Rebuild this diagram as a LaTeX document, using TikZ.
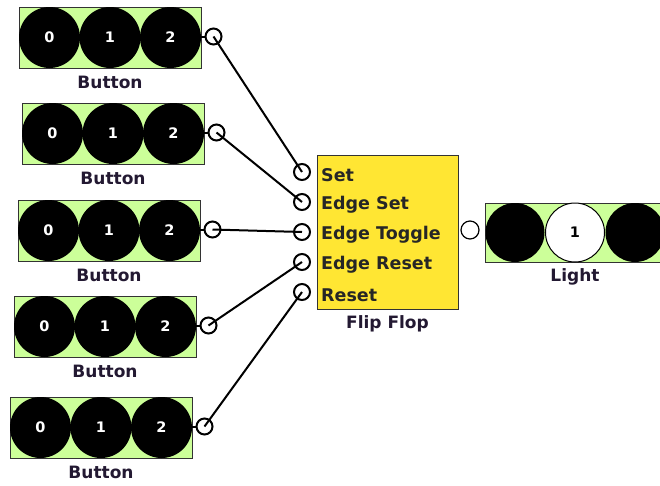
\documentclass[tikz,border=0pt]{standalone}
\usepackage{fontspec}
\setmainfont{DejaVu Sans}
\definecolor{pgreen}{RGB}{204,255,153}
\definecolor{fyellow}{RGB}{255,230,51}
\definecolor{lbltext}{RGB}{35,25,50}
\tikzset{
  btnrect/.style={draw=black!80, line width=1pt, fill=pgreen, minimum width=182pt, minimum height=61pt, inner sep=0pt},
  blk/.style={circle, fill=black, minimum size=61pt, inner sep=0pt, text=white, font=\bfseries\fontsize{14.5}{14.5}\selectfont},
  wht/.style={circle, draw=black, line width=1pt, fill=white, minimum size=59pt, inner sep=0pt, text=black, font=\bfseries\fontsize{14.5}{14.5}\selectfont},
  lbl/.style={text=lbltext, inner sep=0pt, font=\bfseries\fontsize{17}{17}\selectfont},
  ffl/.style={text=black!85, inner sep=0pt, anchor=west, font=\bfseries\fontsize{17.5}{17.5}\selectfont},
  port/.style={circle, draw=black, line width=2pt, fill=white, minimum size=16pt, inner sep=0pt},
  oport/.style={circle, draw=black, line width=1.2pt, fill=white, minimum size=18pt, inner sep=0pt},
  wire/.style={line width=2pt, draw=black},
  ffbox/.style={draw=black!80, line width=1pt, fill=fyellow, minimum width=141pt, minimum height=154pt, inner sep=0pt}
}
\newcommand\btnblock[3]{%
  \node[btnrect] (#1) at (#2+91,#3+30.5) {};
  \node[blk] (#1a) at (#2+30.5,#3+30.5) {0};
  \node[blk] (#1b) at (#2+91,#3+30.5) {1};
  \node[blk] (#1c) at (#2+151.5,#3+30.5) {2};
  \node[lbl] (#1l) at (#2+91,#3+75) {Button};
  \draw[wire] (#2+182,#3+29.5) -- (#2+188,#3+29.5);
  \node[port] (#1p) at (#2+194.5,#3+29.5) {};
}
\begin{document}
\begin{tikzpicture}[x=1pt,y=-1pt]
\clip (0,0) rectangle (660,485);
\fill[white] (0,0) rectangle (660,485);
\btnblock{ba}{19}{7}
\btnblock{bb}{22}{103}
\btnblock{bc}{18}{200}
\btnblock{bd}{14}{296}
\btnblock{be}{10}{397}
% flip flop
\node[ffbox] (ff) at (387.5,232) {};
\node[lbl] (ffl) at (387.5,324) {Flip Flop};
\node[port] (p1) at (302,172) {};
\node[port] (p2) at (302,202) {};
\node[port] (p3) at (302,232) {};
\node[port] (p4) at (302,262) {};
\node[port] (p5) at (302,292) {};
\node[ffl] (t1) at (321,175) {Set};
\node[ffl] (t2) at (321,205) {Edge Set};
\node[ffl] (t3) at (321,235) {Edge Toggle};
\node[ffl] (t4) at (321,265) {Edge Reset};
\node[ffl] (t5) at (321,295) {Reset};
\node[oport] (fo) at (470,230) {};
% light
\node[btnrect, minimum width=200pt, minimum height=59pt] (lt) at (585,232.5) {};
\node[blk, minimum size=59pt] (la) at (515,232.5) {};
\node[wht] (lb) at (575,232.5) {1};
\node[blk, minimum size=59pt] (lc) at (635,232.5) {};
\node[lbl] (ltl) at (575,277) {Light};
% wires
\draw[wire] (bap.center) -- (p1.center);
\draw[wire] (bbp.center) -- (p2.center);
\draw[wire] (bcp.center) -- (p3.center);
\draw[wire] (bdp.center) -- (p4.center);
\draw[wire] (bep.center) -- (p5.center);
\end{tikzpicture}
\end{document}
